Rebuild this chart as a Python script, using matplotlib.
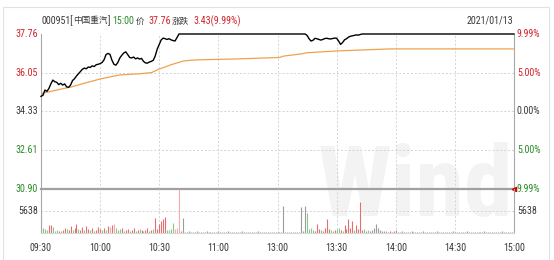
import matplotlib
matplotlib.use('Agg')
import matplotlib.pyplot as plt
from matplotlib.patches import Rectangle
from matplotlib import font_manager
from matplotlib.font_manager import FontProperties
from matplotlib.textpath import TextPath

######data##########################################################

price_ticks = [37.76, 36.05, 34.33, 32.61, 30.90]
pct_labels = ['9.99%', '5.00%', '0.00%', '5.00%', '9.99%']
time_pos = [0, 30, 60, 90, 120, 150, 180, 210, 240]
time_labels = ['09:30', '10:00', '10:30', '11:00', '13:00', '13:30', '14:00', '14:30', '15:00']

# minute index 0..240 (120 = 11:30/13:00)
price_min = list(range(71)) + list(range(134, 164)) + [240]
price_val = [35.00, 35.05, 35.28, 35.22, 35.35, 35.55, 35.72, 35.65, 35.62, 35.52,
             35.58, 35.50, 35.55, 35.42, 35.40, 35.50, 35.70, 35.78, 35.90, 36.00,
             36.10, 36.20, 36.25, 36.22, 36.30, 36.28, 36.35, 36.32, 36.40, 36.42,
             36.45, 36.50, 36.62, 36.85, 36.90, 36.86, 36.60, 36.42, 36.38, 36.50,
             36.70, 36.82, 36.92, 36.97, 36.85, 36.72, 36.70, 36.74, 36.66, 36.70,
             36.65, 36.68, 36.55, 36.48, 36.47, 36.52, 36.55, 36.60, 36.80, 37.10,
             37.30, 37.50, 37.58, 37.55, 37.52, 37.55, 37.50, 37.47, 37.45, 37.60,
             37.76,
             37.76, 37.70, 37.55, 37.45, 37.48, 37.57, 37.55, 37.52, 37.49, 37.52,
             37.56, 37.57, 37.55, 37.54, 37.56, 37.58, 37.57, 37.45, 37.30, 37.38,
             37.50, 37.55, 37.62, 37.66, 37.68, 37.70, 37.72, 37.71, 37.74, 37.76,
             37.76]

avg_min = [0, 1, 5, 10, 15, 22, 30, 40, 50, 56, 60, 62, 66, 69, 72, 76, 81, 97,
           121, 123, 132, 135, 150, 177, 240]
avg_val = [35.02, 35.15, 35.22, 35.32, 35.41, 35.58, 35.77, 35.95, 36.00, 36.05,
           36.21, 36.27, 36.40, 36.48, 36.56, 36.60, 36.62, 36.65,
           36.72, 36.78, 36.88, 36.93, 37.01, 37.10, 37.10]

vol = [4800, 1300, 1050, 780, 2100, 2050, 1560, 520, 780, 540,
       520, 800, 1300, 1040, 760, 1820, 780, 1300, 2340, 1040,
       780, 1560, 800, 1820, 1040, 760, 1300, 520, 780, 1560,
       1040, 780, 1300, 760, 1820, 1560, 2080, 2340, 1300, 780,
       1040, 1300, 520, 780, 1040, 540, 780, 1300, 520, 780,
       1040, 780, 520, 800, 1300, 520, 780, 1040,
       3900, 1040, 2340, 3120, 3640, 4160, 780, 780, 1040, 2600, 1040, 1300, 11276,
       520, 3900,
       250, 260, 500, 240, 260, 250, 520, 250, 240, 260,
       250, 500, 260, 240, 250, 260, 250, 520, 240, 250,
       260, 250, 500, 240, 250, 260, 250, 240, 250, 520,
       250, 240, 260, 250, 250, 240, 260, 500, 250, 240,
       250, 260, 240, 250, 260, 250, 240,
       250, 260, 240, 7020, 250, 260, 240, 250, 260, 250,
       240, 250, 6760, 520, 7020, 5200, 1040, 1300, 780, 520,
       2340, 1040, 780, 520, 1300, 3640, 1040, 780, 520, 780,
       1040, 1300, 780, 520, 2080, 1040, 3640, 1300, 3120, 780,
       2080, 1040, 8060, 780, 1040, 520, 780, 520, 780, 1300,
       2340, 1300, 780, 520, 520, 520, 260, 520, 250, 520,
       780, 250, 260, 520, 240, 250, 260, 250, 520, 240,
       250, 260, 240, 250, 520, 250, 240, 260, 250, 240,
       250, 520, 240, 250, 260, 250, 240, 260, 250, 520,
       250, 240, 260, 250, 240, 250, 520, 260, 250, 240,
       250, 260, 240, 250, 260, 520, 250, 240, 260, 250,
       240, 250, 260, 250, 520, 250, 240, 260, 250, 240, 250]

# r = up, g = down, p = up (light), n = unchanged
vol_dir = ("rgggrrgggr" "grrgrrgrrg" "rrgrrgrgrr"
           "rgrgrprpgg" "grgrrgrrgr" "grgrrgrg"
           "rrrrrrggggppp"
           "nnnnnnnnnn" "nnnnnnnnnn" "nnnnnnnnnn" "nnnnnnnnnn" "nnnnnnnnn"
           "nnnnnnnnnn" "nnnnnggggr"
           "rrgrrrrggr" "ggrgrrrrrg" "rrrrgngnnn" "nnnnngnrnr"
           "nnnnnnnnnn" "nnnnnnnnnn" "nnnnnnnnnn" "nnnnnnnnnn" "nnnnnnnnnn" "nnnnnnnnnnn")
vol_max = 11276

RED = '#d0242b'
GREEN = '#2a8a2a'
GRAY_TXT = '#3a3a3a'
bar_col = {'r': '#e46e6e', 'p': '#f4abab', 'g': '#88c888', 'n': '#9c9c9c'}

######fonts: pick the narrowest installed sans##########################

def narrowest(bold, sample):
    ok_names = ('Liberation Sans', 'DejaVu Sans', 'Noto Sans', 'Roboto', 'Open Sans', 'Lato', 'Inter')
    best, best_r = None, 1e9
    for f in font_manager.fontManager.ttflist:
        if f.style != 'normal' or not f.fname.lower().endswith(('.ttf', '.otf')):
            continue
        w = f.weight if isinstance(f.weight, int) else {'bold': 700}.get(str(f.weight), 400)
        if bold and not 650 <= w <= 800:
            continue
        if not bold and not 380 <= w <= 450:
            continue
        base = f.name.replace('Narrow', '').replace('ExtraCondensed', '').replace('SemiCondensed', '') \
                     .replace('Condensed', '').strip()
        if base not in ok_names:
            continue
        try:
            ext = TextPath((0, 0), sample, size=100, prop=FontProperties(fname=f.fname)).get_extents()
        except Exception:
            continue
        if ext.height <= 0:
            continue
        r = ext.width / ext.height
        if r < best_r:
            best, best_r = f.fname, r
    return best

fn = narrowest(False, '37.76')
fb = narrowest(True, 'Wind')
LAT = dict(fontproperties=FontProperties(fname=fn, size=8)) if fn else dict(family='Liberation Sans', fontsize=7)
WM = dict(fontproperties=FontProperties(fname=fb, size=60)) if fb else \
    dict(family='Liberation Sans', fontweight='bold', fontsize=60)
CJK = dict(family='Noto Sans CJK SC', fontsize=6.2)

######figure##########################################################

W, H = 554, 260
fig = plt.figure(figsize=(W / 100, H / 100), dpi=100)
fig.patch.set_facecolor('white')
rend = fig.canvas.get_renderer()

# fit label size so '37.76' is about as wide as in the source (max 9.5 pt)
probe = fig.text(0, 0, '37.76', **LAT)
lat_size = min(9.5, 8 * 22.5 / probe.get_window_extent(rend).width)
probe.remove()
LAT = dict(LAT)
if 'fontproperties' in LAT:
    LAT['fontproperties'] = FontProperties(fname=fn, size=lat_size)
else:
    LAT['fontsize'] = lat_size

def px_box(x0, y0, x1, y1):
    return [x0 / W, 1 - y1 / H, (x1 - x0) / W, (y1 - y0) / H]

ax = fig.add_axes(px_box(41, 34, 514, 189))
axv = fig.add_axes(px_box(41, 189, 514, 233))
for a in (ax, axv):
    a.patch.set_alpha(0)
    a.set_xlim(0, 240)
    a.set_xticks([])
    a.set_yticks([])
    a.spines['top'].set_visible(False)
    for s in ('left', 'right'):
        a.spines[s].set_color('#a8a8a8')
        a.spines[s].set_linewidth(0.8)
    for m in time_pos[1:-1]:
        a.axvline(m, color='#d4d4d4', lw=0.7, ls=(0, (2, 2)), zorder=0)

# watermark, sized to span the right part of the chart
wm = fig.text(318 / W, 1 - 142 / H, 'Wind', color='#f3f3f3', va='top', ha='left', zorder=-1, **WM)
wm_w = wm.get_window_extent(rend).width
wm.set_fontsize(wm.get_fontsize() * 196 / wm_w)

# price panel
ax.set_ylim(30.90, 37.76)
ax.spines['bottom'].set_color('#a0a0a0')
ax.spines['bottom'].set_linewidth(1.6)
for p in price_ticks[1:-1]:
    ax.axhline(p, color='#d4d4d4', lw=0.7, ls=(0, (2, 2)), zorder=0)

ax.plot(avg_min, avg_val, color='#f0a050', lw=0.9, zorder=2)
ax.plot(price_min, price_val, color='black', lw=1.0, zorder=3, clip_on=False)
ax.plot([240], [30.90], marker='<', color='#d00000', ms=3, clip_on=False, zorder=4)

lab_col = [RED, RED, GRAY_TXT, GREEN, GREEN]
for p, pl, c in zip(price_ticks, pct_labels, lab_col):
    ax.text(-1.5, p, '%.2f' % p, color=c, ha='right', va='center', **LAT)
    ax.text(241.5, p, pl, color=c, ha='left', va='center', **LAT)

# volume panel
axv.set_ylim(0, vol_max)
axv.spines['bottom'].set_color('#d8d8d8')
axv.spines['bottom'].set_linewidth(0.8)
axv.axhline(vol_max / 2, color='#d4d4d4', lw=0.7, ls=(0, (2, 2)), zorder=0)
axv.vlines(range(len(vol)), 0, vol, colors=[bar_col[d] for d in vol_dir], lw=0.8)
axv.text(-1.5, vol_max / 2, '5638', color=GRAY_TXT, ha='right', va='center', **LAT)
axv.text(241.5, vol_max / 2, '5638', color=GRAY_TXT, ha='left', va='center', **LAT)

for m, t in zip(time_pos, time_labels):
    axv.text(m, -0.34, t, color=GRAY_TXT, ha='center', va='center',
             transform=axv.get_xaxis_transform(), **LAT)

# title line, each piece at its place in the source
ty = 1 - 21 / H
pieces = [('000951[', GRAY_TXT, LAT, 42), ('中国重汽', GRAY_TXT, CJK, 73), (']', GRAY_TXT, LAT, 108),
          ('15:00', GREEN, LAT, 112), ('价', GRAY_TXT, CJK, 136), ('37.76', RED, LAT, 148),
          ('涨跌', GRAY_TXT, CJK, 172), ('3.43(9.99%)', RED, LAT, 193)]
for s, c, font, x in pieces:
    fig.text(x / W, ty, s, color=c, va='center', **font)
fig.text(513 / W, ty, '2021/01/13', color=GRAY_TXT, va='center', ha='right', **LAT)

# outer frame
fig.patches.append(Rectangle((3 / W, 0), 546 / W, 1 - 7 / H, transform=fig.transFigure,
                             fill=False, ec='#e2e2e2', lw=0.8))

fig.savefig('out.png', dpi=100)
